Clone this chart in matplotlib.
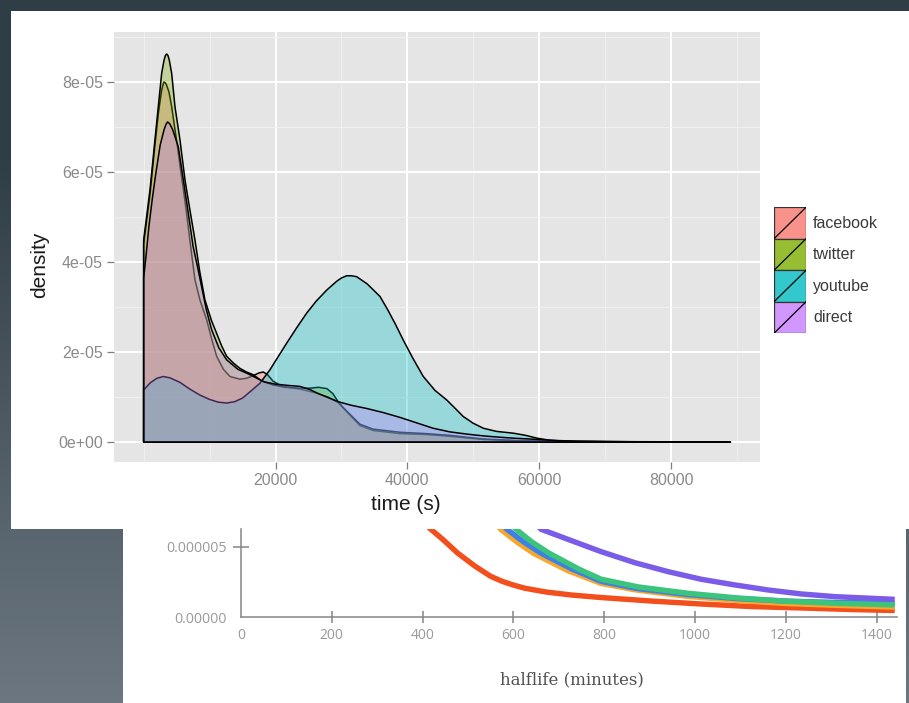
import numpy as np
import matplotlib.pyplot as plt
from matplotlib.patches import Rectangle
from matplotlib.lines import Line2D

plt.rcParams['font.family'] = ['Liberation Sans', 'DejaVu Sans']

W, H = 909, 703

# ---- density chart (values in units of 1e-5) ----
sources = ['facebook', 'twitter', 'youtube', 'direct']
src_colors = ['#F8766D', '#7CAE00', '#00BFC4', '#C77CFF']
key_colors = ['#f8928a', '#97be33', '#33c8cc', '#d296ff']

facebook_t = [0, 480, 960, 1710, 2220, 2700, 2900, 3080, 3270, 3450, 3850, 4250, 4700, 5150,
              5550, 5950, 6500, 7000, 7780, 8540, 9560, 10300, 11070, 12100, 13090, 14610,
              15600, 16620, 17500, 18150, 18800, 19600, 21000, 23700, 26000, 28000, 29500,
              30400, 31300, 32800, 34800, 38900, 42900, 46500, 51500, 56600, 65000, 75000, 89000]
facebook_d = [4.4, 4.95, 5.5, 6.6, 7.3, 7.8, 7.93, 8.01, 7.99, 7.95, 7.78, 7.46, 7.0, 6.55,
              6.1, 5.7, 5.1, 4.5, 3.61, 3.16, 2.72, 2.3, 1.91, 1.62, 1.46, 1.4,
              1.42, 1.48, 1.54, 1.56, 1.5, 1.36, 1.24, 1.18, 1.1, 1.0, 0.88,
              0.74, 0.6, 0.37, 0.26, 0.19, 0.17, 0.13, 0.06, 0.03, 0.012, 0.007, 0.004]

twitter_t = [0, 480, 960, 1340, 1710, 2220, 2730, 3100, 3300, 3490, 3680, 3880, 4250, 4750,
             5510, 6270, 7020, 7780, 8500, 9300, 10300, 11070, 11800, 12590, 13600, 14610,
             15600, 16620, 17900, 19660, 21500, 23700, 25200, 26500, 27800, 28700, 29500,
             30400, 31300, 32800, 34800, 38900, 42900, 46500, 51500, 56600, 65000, 75000, 89000]
twitter_d = [4.5, 5.05, 5.61, 6.17, 6.72, 7.46, 8.2, 8.5, 8.6, 8.63, 8.6, 8.5, 8.2, 7.46,
             6.72, 5.83, 5.16, 4.5, 3.8, 3.16, 2.7, 2.42, 2.15, 1.91, 1.76, 1.64,
             1.56, 1.5, 1.36, 1.27, 1.22, 1.2, 1.2, 1.22, 1.19, 1.08, 0.9,
             0.75, 0.62, 0.4, 0.29, 0.22, 0.19, 0.15, 0.07, 0.035, 0.015, 0.008, 0.004]

youtube_t = [0, 1000, 2000, 2980, 4000, 5500, 7000, 8500, 10000, 11300, 12590, 13800, 15000,
             16130, 17640, 19160, 20400, 21690, 23200, 24730, 26200, 27760, 29300, 30000,
             30790, 31500, 32300, 33900, 35850, 37000, 38200, 39380, 40900, 42420, 44200,
             45960, 47200, 48480, 50000, 51520, 53500, 56070, 58000, 59620, 61500, 64000,
             70000, 80000, 89000]
youtube_d = [1.16, 1.32, 1.42, 1.46, 1.43, 1.33, 1.18, 1.05, 0.95, 0.89, 0.87, 0.9, 0.98,
             1.12, 1.31, 1.61, 1.9, 2.2, 2.54, 2.87, 3.14, 3.38, 3.58, 3.65,
             3.7, 3.7, 3.68, 3.52, 3.24, 2.95, 2.62, 2.27, 1.85, 1.46, 1.15,
             0.94, 0.76, 0.57, 0.42, 0.31, 0.24, 0.2, 0.15, 0.09, 0.045, 0.02,
             0.01, 0.006, 0.004]

direct_t = [0, 400, 800, 1300, 1820, 2500, 3100, 3400, 3640, 3950, 4400, 5250, 6000, 6770,
            7500, 8100, 8800, 9500, 10310, 11400, 12590, 14300, 16130, 17200, 18300, 20000,
            22000, 23700, 25200, 26500, 28000, 29500, 31500, 33800, 36300, 38900, 41400,
            43900, 46400, 49000, 51500, 54000, 56500, 59100, 62000, 66000, 75000, 89000]
direct_d = [3.65, 4.2, 4.8, 5.4, 5.95, 6.6, 6.95, 7.07, 7.12, 7.08, 6.95, 6.57, 5.85, 5.09,
            4.35, 3.95, 3.45, 2.95, 2.5, 2.1, 1.83, 1.62, 1.5, 1.42, 1.34, 1.29,
            1.26, 1.24, 1.17, 1.08, 0.99, 0.9, 0.82, 0.75, 0.66, 0.55, 0.43,
            0.31, 0.23, 0.18, 0.14, 0.11, 0.085, 0.066, 0.04, 0.02, 0.01, 0.005]

series_t = [facebook_t, twitter_t, youtube_t, direct_t]
series_d = [facebook_d, twitter_d, youtube_d, direct_d]

x_major = [20000, 40000, 60000, 80000]
x_minor = [0, 10000, 30000, 50000, 70000, 90000]
y_major = [0, 2e-5, 4e-5, 6e-5, 8e-5]
y_labels = ['0e+00', '2e-05', '4e-05', '6e-05', '8e-05']
y_minor = [1e-5, 3e-5, 5e-5, 7e-5, 9e-5]

# ---- halflife chart (values in units of 1e-6) ----
hl_colors = ['#f24f1c', '#f7a72a', '#3d80e6', '#3cc47c', '#7b5ce8']
red_m = [400, 415, 446, 477, 515, 550, 575, 600, 625, 672, 727, 793, 904, 1014, 1125, 1235, 1346, 1440]
red_v = [7.3, 6.32, 5.47, 4.55, 3.63, 2.9, 2.55, 2.28, 2.06, 1.79, 1.58, 1.4, 1.15, 0.94, 0.76, 0.66, 0.55, 0.48]
orange_m = [555, 572, 609, 646, 720, 793, 867, 978, 1088, 1198, 1309, 1440]
orange_v = [6.9, 6.23, 5.3, 4.5, 3.3, 2.4, 1.95, 1.5, 1.2, 0.98, 0.85, 0.72]
blue_m = [570, 585, 622, 660, 730, 793, 870, 980, 1090, 1200, 1310, 1440]
blue_v = [6.9, 6.25, 5.35, 4.55, 3.4, 2.55, 2.05, 1.62, 1.33, 1.15, 1.05, 1.0]
green_m = [588, 605, 640, 678, 745, 793, 875, 985, 1090, 1200, 1310, 1440]
green_v = [6.9, 6.25, 5.35, 4.55, 3.4, 2.7, 2.15, 1.7, 1.38, 1.14, 0.99, 0.88]
purple_m = [640, 661, 720, 793, 867, 941, 1014, 1088, 1162, 1235, 1309, 1440]
purple_v = [6.9, 6.23, 5.52, 4.65, 3.87, 3.23, 2.69, 2.29, 1.93, 1.65, 1.46, 1.27]
hl_m = [red_m, orange_m, blue_m, green_m, purple_m]
hl_v = [red_v, orange_v, blue_v, green_v, purple_v]
hl_ticks = [0, 200, 400, 600, 800, 1000, 1200, 1400]


def box(x0, y0, x1, y1):
    # pixel box (top-left origin) -> figure fraction
    return [x0 / W, 1 - y1 / H, (x1 - x0) / W, (y1 - y0) / H]


fig = plt.figure(figsize=(W / 100, H / 100), dpi=100)

# background: slate gradient and two white cards
bg = fig.add_axes([0, 0, 1, 1])
bg.axis('off')
rows = np.clip((np.arange(H) - 150) / (H - 150), 0, 1)[:, None, None]
top_c = np.array([47, 61, 71]) / 255
bot_c = np.array([108, 119, 129]) / 255
grad = top_c + (bot_c - top_c) * rows
bg.imshow(np.repeat(grad, 2, axis=1), extent=(0, W, H, 0), aspect='auto')
bg.set_xlim(0, W)
bg.set_ylim(H, 0)
bg.add_patch(Rectangle((11, 11), W - 11, 518, color='white', lw=0))
bg.add_patch(Rectangle((123, 529), 783, H - 529, color='white', lw=0))

# ---- lower chart ----
ax2 = fig.add_axes(box(241, 529, 897, 617.3))
ax2.set_facecolor('none')
for m, v, c in zip(hl_m, hl_v, hl_colors):
    ax2.plot(m, np.array(v) * 1e-6, color=c, lw=3.9, solid_capstyle='butt',
             solid_joinstyle='round')
ax2.set_xlim(0, 1445)
ax2.set_ylim(0, 6.25e-6)
for s in ['top', 'right']:
    ax2.spines[s].set_visible(False)
for s in ['left', 'bottom']:
    ax2.spines[s].set_color('#858585')
    ax2.spines[s].set_linewidth(1.1)
ax2.set_xticks(hl_ticks)
ax2.set_xticklabels([str(t) for t in hl_ticks])
ax2.set_yticks([0, 5e-6])
ax2.set_yticklabels(['0.00000', '0.000005'])
ax2.tick_params(axis='x', direction='inout', length=8, width=1.1, color='#858585',
                labelcolor='#9a9a9a', labelsize=10, pad=4)
ax2.tick_params(axis='y', direction='inout', length=11, width=1.1, color='#858585',
                labelcolor='#9a9a9a', labelsize=10.3, pad=5)
ax2.yaxis.get_major_ticks()[0].tick1line.set_visible(False)
ax2.xaxis.get_major_ticks()[0].tick1line.set_visible(False)
for lab in ax2.get_xticklabels() + ax2.get_yticklabels():
    lab.set_family(['Open Sans', 'DejaVu Sans'])
fig.text(572 / W, 1 - 680 / H, 'halflife (minutes)', ha='center', va='center',
         fontsize=12, color='#505050', family=['DejaVu Serif'])

# ---- density chart ----
ax = fig.add_axes(box(114, 32, 760, 461.5))
ax.set_facecolor('#e5e5e5')
for t, d, c in zip(series_t, series_d, src_colors):
    xs = np.r_[t[0], t, t[-1]]
    ys = np.r_[0, d, 0] * 1e-5
    rgb = plt.matplotlib.colors.to_rgb(c)
    ax.fill(xs, ys, facecolor=(*rgb, 0.33), edgecolor='black', lw=1.1, joinstyle='round')
ax.set_xlim(-4500, 93500)
ax.set_ylim(-0.43e-5, 9.12e-5)
for s in ax.spines.values():
    s.set_visible(False)
ax.set_xticks(x_major)
ax.set_xticklabels([str(v) for v in x_major])
ax.set_xticks(x_minor, minor=True)
ax.set_yticks(y_major)
ax.set_yticklabels(y_labels)
ax.set_yticks(y_minor, minor=True)
ax.set_axisbelow(True)
ax.grid(which='major', color='white', lw=1.4)
ax.grid(which='minor', color='#f2f2f2', lw=0.6)
ax.tick_params(which='major', length=5, width=0.9, color='#7f7f7f',
               labelcolor='#8a8a8a', labelsize=11.5, pad=3)
ax.tick_params(which='minor', length=0)
fig.text(406 / W, 1 - 504 / H, 'time (s)', ha='center', va='center', fontsize=15, color='#1a1a1a')
fig.text(40 / W, 1 - 265 / H, 'density', ha='center', va='center', rotation=90,
         fontsize=15, color='#1a1a1a')

# legend
lax = fig.add_axes(box(774, 207.3, 806, 333.3))
lax.set_xlim(0, 1)
lax.set_ylim(0, 4)
lax.axis('off')
for i, (name, kc) in enumerate(zip(sources, key_colors)):
    y0 = 3 - i
    lax.add_patch(Rectangle((0, y0), 1, 1, facecolor=kc, edgecolor='#333333', lw=0.9))
    lax.add_line(Line2D([0, 1], [y0, y0 + 1], color='black', lw=0.9))
    lax.text(1.22, y0 + 0.5, name, ha='left', va='center', fontsize=11.5, color='#3a3a3a')

fig.savefig('out.png', dpi=100)
